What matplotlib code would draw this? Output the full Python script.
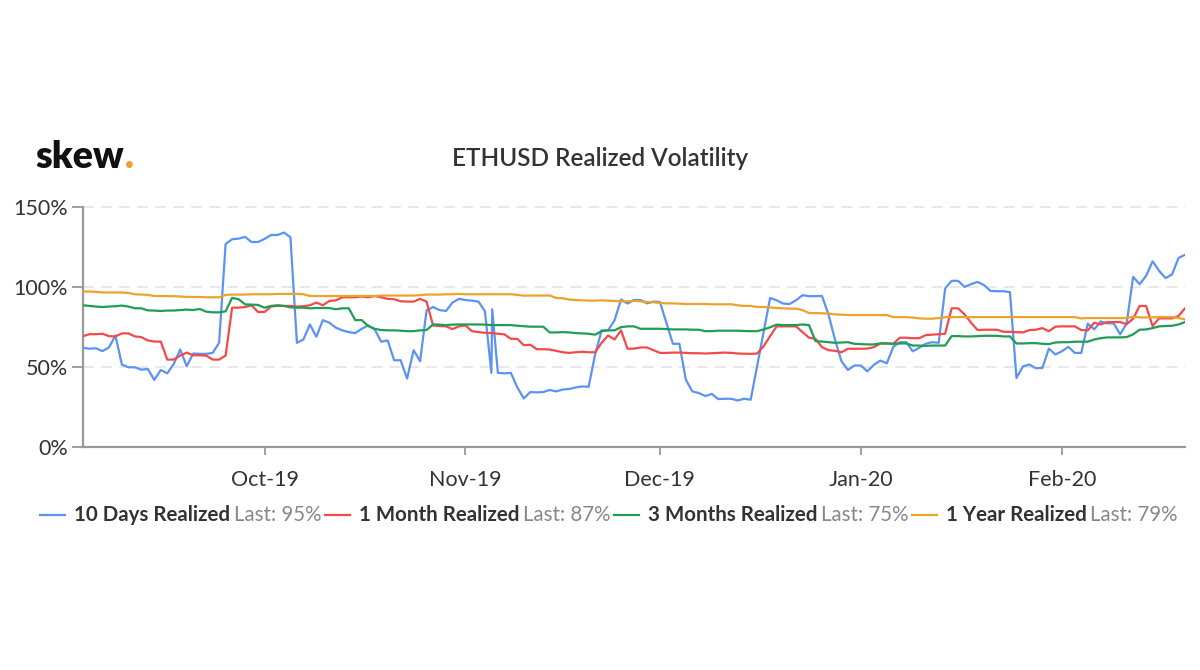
import matplotlib
matplotlib.use("Agg")
import matplotlib.pyplot as plt
import matplotlib.dates as mdates
from matplotlib.lines import Line2D
from matplotlib.ticker import FuncFormatter
import numpy as np
import pandas as pd

plt.rcParams['font.family'] = ['Lato', 'DejaVu Sans']

# daily points, first one on 3 Sep 2019
dates = pd.date_range('2019-09-03', periods=171, freq='D')

vol_10d = [
    61.9, 61.3, 61.6, 59.8, 62.1, 69.6, 51.4, 49.7, 49.7, 48.2,
    48.6, 41.8, 48.0, 45.9, 51.8, 60.8, 50.3, 58.3, 58.1, 58.1,
    58.7, 65.0, 126.9, 129.8, 130.2, 131.3, 128.1, 128.1, 130.0, 132.5,
    132.5, 134.0, 131.1, 65.0, 67.1, 76.5, 68.8, 79.2, 77.6, 74.5,
    72.8, 71.7, 71.1, 73.8, 75.9, 73.4, 65.7, 66.5, 54.1, 54.1,
    42.6, 60.4, 53.5, 85.3, 87.4, 85.5, 84.9, 90.2, 92.5, 91.8,
    91.4, 90.8, 84.9, 46.2, 46.2, 45.9, 46.2, 37.1, 30.2, 34.2,
    34.0, 34.2, 35.5, 34.6, 35.8, 36.1, 37.1, 37.7, 37.5, 57.7,
    72.8, 72.8, 79.1, 92.1, 89.6, 91.8, 91.8, 89.7, 90.8, 90.6,
    77.6, 64.4, 64.4, 41.9, 34.6, 33.6, 31.7, 33.0, 29.8, 30.0,
    30.0, 28.9, 30.0, 29.4, 50.6, 71.9, 93.1, 91.6, 89.6, 89.3,
    91.6, 94.8, 94.2, 94.2, 94.3, 82.8, 67.1, 53.5, 48.0, 50.8,
    50.8, 47.2, 51.2, 53.9, 52.2, 62.5, 65.4, 65.4, 59.7, 61.9,
    64.4, 65.4, 65.0, 99.0, 103.8, 103.8, 100.0, 101.7, 103.1, 101.1,
    97.5, 97.3, 97.3, 96.7, 43.0, 50.3, 51.4, 49.1, 49.3, 61.4,
    57.7, 59.7, 62.5, 58.7, 58.7, 77.0, 73.4, 78.4, 77.2, 77.2,
    70.3, 77.2, 106.3, 101.7, 106.9, 116.0, 110.1, 105.5, 107.8, 118.1, 120.1,
]
# extra intraday print in the 10 day series
spike_date = pd.Timestamp('2019-11-05 03:00')
spike_value = 86.0

vol_1m = [
    69.2, 70.4, 70.4, 70.7, 69.2, 69.0, 70.9, 70.9, 69.0, 68.6,
    66.5, 65.8, 65.8, 54.5, 54.5, 57.0, 58.9, 57.2, 57.2, 57.0,
    54.5, 54.5, 57.0, 87.0, 87.0, 87.4, 88.5, 84.3, 84.3, 87.7,
    88.1, 88.1, 88.1, 87.7, 87.9, 88.5, 90.2, 88.5, 91.2, 91.6,
    93.5, 93.5, 93.5, 94.0, 93.5, 94.3, 93.5, 92.5, 92.3, 91.0,
    90.8, 90.8, 92.5, 90.8, 75.9, 75.5, 75.3, 73.6, 75.3, 75.9,
    72.3, 71.7, 71.3, 71.1, 70.7, 70.3, 67.5, 67.5, 63.5, 63.8,
    61.0, 61.0, 60.8, 60.0, 59.1, 58.7, 59.1, 59.4, 59.1, 59.1,
    65.0, 69.6, 67.1, 72.8, 61.3, 61.4, 62.1, 62.1, 60.4, 58.7,
    58.7, 58.9, 58.9, 58.7, 58.5, 58.5, 58.3, 58.5, 58.7, 58.9,
    58.7, 58.3, 58.2, 58.1, 58.3, 62.9, 69.2, 75.3, 75.3, 75.3,
    75.3, 71.7, 68.2, 67.5, 62.3, 60.4, 60.0, 59.1, 61.3, 61.3,
    61.3, 61.4, 62.3, 64.6, 64.6, 64.4, 68.2, 68.2, 67.9, 67.9,
    69.8, 70.1, 70.4, 70.7, 86.6, 86.6, 82.8, 77.6, 73.0, 73.2,
    73.2, 73.2, 71.9, 71.9, 71.7, 71.5, 73.0, 73.2, 74.2, 72.3,
    75.1, 75.3, 75.3, 75.3, 73.0, 72.8, 77.6, 76.5, 78.0, 78.0,
    78.0, 76.7, 80.1, 88.1, 88.1, 75.5, 80.3, 80.3, 80.3, 81.8, 86.6,
]

vol_3m = [
    88.5, 88.1, 87.7, 87.4, 87.7, 87.9, 88.3, 87.7, 86.6, 86.6,
    85.3, 85.2, 84.9, 85.2, 85.2, 85.5, 85.8, 85.5, 86.2, 84.5,
    84.1, 84.1, 84.7, 93.1, 92.3, 89.1, 88.9, 88.7, 87.0, 88.1,
    88.5, 88.1, 87.2, 87.0, 87.0, 86.6, 86.8, 86.8, 86.8, 86.0,
    86.6, 86.6, 79.2, 79.2, 75.5, 73.8, 73.0, 72.8, 72.8, 72.6,
    72.3, 72.3, 72.8, 73.0, 76.5, 76.4, 76.1, 76.4, 76.5, 76.5,
    76.5, 76.5, 76.4, 76.1, 76.1, 76.1, 76.1, 75.7, 75.4, 75.1,
    75.1, 75.1, 71.5, 71.5, 71.7, 71.5, 71.1, 70.9, 70.7, 70.1,
    72.3, 72.8, 72.8, 74.8, 75.3, 75.3, 73.8, 73.8, 73.8, 73.8,
    73.6, 73.4, 73.4, 73.4, 73.2, 73.2, 72.3, 72.3, 72.6, 72.6,
    72.6, 72.6, 72.4, 72.3, 72.3, 73.4, 74.7, 76.4, 76.1, 76.1,
    76.1, 76.5, 76.1, 66.0, 65.8, 65.4, 65.0, 65.2, 65.4, 64.4,
    64.2, 64.0, 64.0, 64.6, 64.6, 64.4, 64.6, 64.6, 63.3, 63.3,
    63.1, 63.3, 63.3, 63.3, 69.2, 69.2, 69.0, 69.0, 69.2, 69.4,
    69.4, 69.4, 69.0, 69.0, 64.6, 64.6, 64.8, 64.8, 64.4, 64.2,
    65.2, 65.4, 65.4, 65.7, 65.7, 65.7, 67.1, 67.9, 68.4, 68.4,
    68.4, 68.6, 70.3, 73.2, 73.4, 74.2, 75.3, 75.5, 75.7, 76.5, 78.0,
]

vol_1y = [
    97.1, 97.1, 96.9, 96.5, 96.5, 96.5, 96.5, 96.2, 95.4, 95.2,
    95.0, 94.3, 94.3, 94.2, 94.2, 94.0, 93.7, 93.7, 93.7, 93.5,
    93.5, 93.5, 95.0, 95.2, 95.2, 95.2, 95.4, 95.4, 95.4, 95.4,
    95.6, 95.6, 95.6, 95.6, 95.4, 94.3, 94.3, 94.3, 94.3, 94.3,
    94.3, 94.3, 94.3, 94.3, 94.3, 94.3, 94.6, 94.6, 94.6, 94.6,
    94.6, 94.6, 94.8, 95.2, 95.2, 95.2, 95.4, 95.4, 95.6, 95.4,
    95.4, 95.4, 95.4, 95.4, 95.4, 95.4, 95.4, 95.0, 94.5, 94.6,
    94.6, 94.6, 94.6, 93.1, 92.9, 92.1, 91.8, 91.6, 91.4, 91.4,
    91.6, 91.4, 91.2, 91.0, 91.0, 91.2, 91.0, 90.6, 90.4, 89.9,
    89.7, 89.7, 89.5, 89.3, 89.3, 89.3, 89.3, 89.1, 89.1, 89.1,
    89.1, 88.5, 88.1, 88.1, 87.4, 87.4, 87.2, 86.8, 86.6, 86.4,
    86.4, 85.5, 83.6, 83.6, 83.5, 83.3, 82.8, 82.6, 82.4, 82.4,
    82.4, 82.4, 82.4, 82.4, 82.4, 81.1, 81.1, 81.1, 80.8, 80.3,
    80.1, 80.1, 80.5, 81.1, 81.1, 81.1, 81.1, 81.1, 81.1, 81.1,
    81.1, 81.1, 81.1, 81.1, 81.1, 81.1, 81.1, 81.1, 81.1, 81.1,
    81.1, 81.1, 81.1, 81.1, 80.3, 80.5, 80.5, 80.5, 80.5, 80.5,
    80.5, 80.5, 81.4, 80.9, 80.9, 80.9, 81.1, 81.1, 81.1, 80.5, 79.7,
]

series_names = ["10 Days Realized", "1 Month Realized", "3 Months Realized", "1 Year Realized"]
last_values = ["95%", "87%", "75%", "79%"]
colors = ['#5b93f2', '#f24a4a', '#1f9d55', '#eba32c']

W, H = 1200, 670
fig = plt.figure(figsize=(W / 100, H / 100), dpi=100)
fig.patch.set_facecolor('white')
ax = fig.add_axes([83 / W, 1 - 446.7 / H, (1185 - 83) / W, (446.7 - 207) / H])

# 10 day series with the intraday spike inserted
x10 = list(dates[:64]) + [spike_date] + list(dates[64:])
y10 = vol_10d[:64] + [spike_value] + vol_10d[64:]

ax.plot(x10, y10, color=colors[0], lw=1.6, zorder=3)
ax.plot(dates, vol_1m, color=colors[1], lw=1.6, zorder=4)
ax.plot(dates, vol_3m, color=colors[2], lw=1.6, zorder=5)
ax.plot(dates, vol_1y, color=colors[3], lw=1.6, zorder=6)

ax.set_xlim(dates[0], dates[-1])
ax.set_ylim(0, 150)
ax.set_yticks([0, 50, 100, 150])
ax.yaxis.set_major_formatter(FuncFormatter(lambda v, p: f"{v:.0f}%"))
ax.xaxis.set_major_locator(mdates.MonthLocator(bymonthday=1))
ax.xaxis.set_major_formatter(mdates.DateFormatter('%b-%y'))

ax.yaxis.grid(True, color='#e6e6e6', linestyle=(0, (6, 4)), linewidth=1.3)
ax.set_axisbelow(True)
for gl in ax.get_ygridlines():
    gl.set_clip_on(False)

for s in ['top', 'right']:
    ax.spines[s].set_visible(False)
for s in ['left', 'bottom']:
    ax.spines[s].set_color('#999999')
    ax.spines[s].set_linewidth(1.6)

ax.tick_params(axis='y', length=8, width=1.3, color='#999999', labelcolor='#333333',
               labelsize=15.5, pad=3)
ax.tick_params(axis='x', length=6, width=1.3, color='#999999', labelcolor='#333333',
               labelsize=15.5, pad=11)

# logo and title
logo = fig.text(35 / W, 1 - 157 / H, "skew", fontsize=27, fontweight='heavy',
                color='#111111', va='center', ha='left')
fig.canvas.draw()
renderer = fig.canvas.get_renderer()
bb = logo.get_window_extent(renderer)
fig.text(bb.x1 / W + 0.001, 1 - 157 / H, ".", fontsize=27, fontweight='heavy',
         color='#eba32c', va='center', ha='left')

fig.text(0.5, 1 - 158 / H, "ETHUSD Realized Volatility", fontsize=17.5,
         fontweight='semibold', color='#333333', ha='center', va='center')

# legend drawn by hand (bold name + grey "Last" value)
ly = 1 - 515 / H
x = 40.0
for name, last, c in zip(series_names, last_values, colors):
    fig.add_artist(Line2D([x / W, (x + 25) / W], [ly, ly], color=c, lw=1.6,
                          transform=fig.transFigure))
    x += 34
    t1 = fig.text(x / W, ly, name, fontsize=14.8, fontweight='bold', color='#333333',
                  ha='left', va='center')
    x = t1.get_window_extent(renderer).x1 + 4
    t2 = fig.text(x / W, ly, "Last: " + last, fontsize=14.8, color='#888888',
                  ha='left', va='center')
    x = t2.get_window_extent(renderer).x1 + 3

fig.savefig('out.png', dpi=100, facecolor='white')
